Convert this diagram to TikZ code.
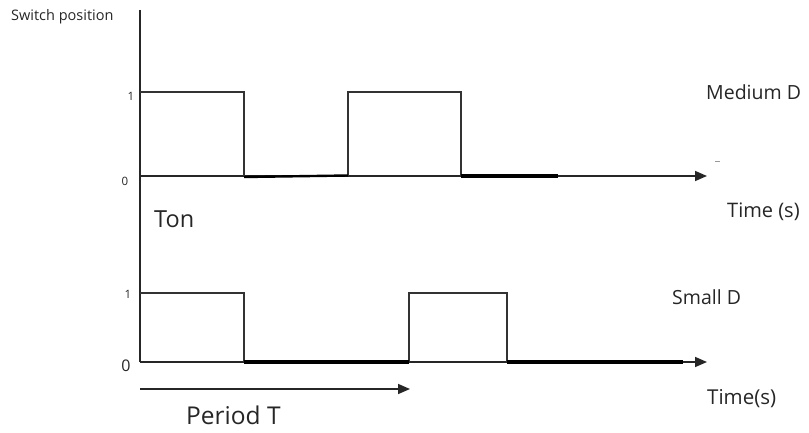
\documentclass[tikz,border=0pt]{standalone}
\usepackage{fontspec}
\setmainfont{Open Sans}
\usetikzlibrary{arrows.meta}
\begin{document}
\begin{tikzpicture}[x=1pt,y=-1pt,
  sig/.style={draw=black!80, line width=1.1pt},
  thick sig/.style={draw=black, line width=3.2pt},
  axis/.style={draw=black!85, line width=1.4pt},
  arr/.style={draw=black!85, line width=1.6pt, -{Triangle[length=12pt,width=10pt]}},
  lbl/.style={inner sep=0pt, text=black!85}]
\useasboundingbox (0,0) rectangle (809,433);
% coordinates
\coordinate (ytop) at (140,10);
\coordinate (ybot) at (140,362);
\coordinate (o1) at (140,176);
\coordinate (e1) at (707,176);
\coordinate (o2) at (140,362);
\coordinate (e2) at (707,362);
\coordinate (p0) at (140,389);
\coordinate (p1) at (410,389);
% vertical axis
\draw[axis] (ytop) -- (ybot);
% upper time axis
\draw[arr] (o1) -- (e1);
% upper signal
\draw[sig] (140,92) -- (244,92) -- (244,176);
\draw[sig] (348,176) -- (348,92) -- (461,92) -- (461,176);
\draw[line width=2.4pt] (244,177) -- (348,175.5);
\draw[thick sig] (461,176) -- (558,176);
% lower time axis
\draw[arr] (o2) -- (e2);
% lower signal
\draw[sig] (140,293) -- (244,293) -- (244,362);
\draw[sig] (409,362) -- (409,293) -- (507,293) -- (507,362);
\draw[thick sig] (244,362) -- (409,362);
\draw[thick sig] (507,362) -- (683,362);
% period arrow
\draw[arr] (p0) -- (p1);
% small artifact dash
\draw[black!40, line width=0.8pt] (715,161) -- (720,161);
% labels
\node[lbl, font=\fontsize{14.5}{16}\selectfont, anchor=west] (sw) at (11,17) {Switch position};
\node[lbl, font=\fontsize{11.5}{13}\selectfont] (u1) at (131,96) {1};
\node[lbl, font=\fontsize{11.5}{13}\selectfont] (u0) at (125,181) {0};
\node[lbl, font=\fontsize{11.5}{13}\selectfont] (l1) at (128,294) {1};
\node[lbl, font=\fontsize{16}{18}\selectfont] (l0) at (126,366) {0};
\node[lbl, font=\fontsize{19.5}{22}\selectfont, anchor=west] (md) at (706,92) {Medium D};
\node[lbl, font=\fontsize{20}{22}\selectfont, anchor=west] (t1) at (727,212) {Time (s)};
\node[lbl, font=\fontsize{23.5}{26}\selectfont, anchor=west] (ton) at (154,219) {Ton};
\node[lbl, font=\fontsize{19.5}{22}\selectfont, anchor=west] (sd) at (672,297) {Small D};
\node[lbl, font=\fontsize{20.5}{22}\selectfont, anchor=west] (t2) at (707,399) {Time(s)};
\node[lbl, font=\fontsize{24.5}{26}\selectfont, anchor=west] (pt) at (186,415) {Period T};
\end{tikzpicture}
\end{document}
